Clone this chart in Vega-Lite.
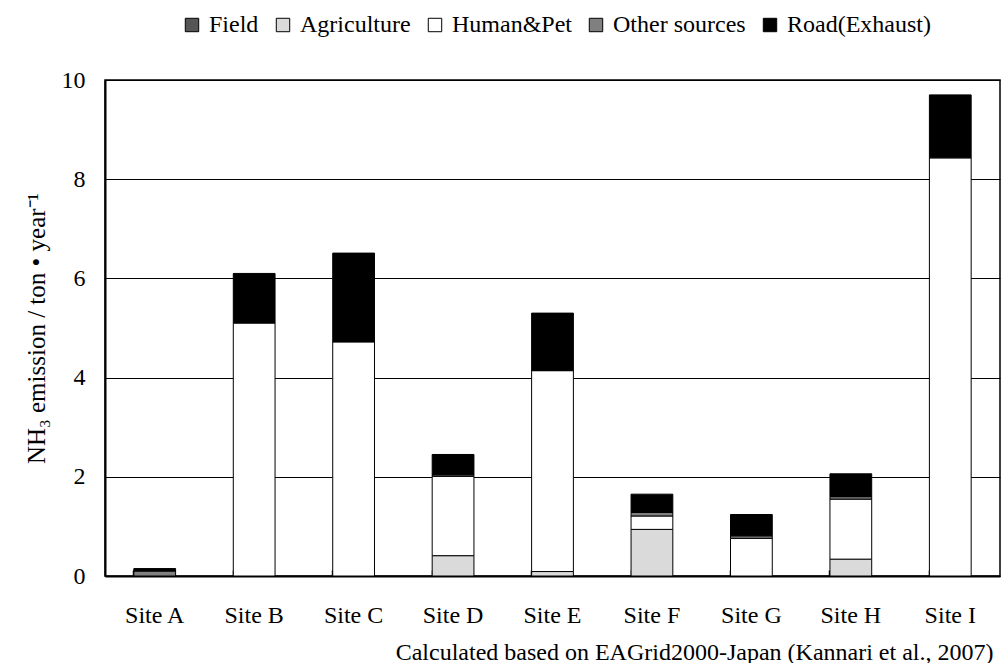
{
  "$schema": "https://vega.github.io/schema/vega-lite/v6.json",
  "autosize": "none",
  "width": 895,
  "height": 496,
  "padding": {"left": 105, "top": 80, "right": 2, "bottom": 87},
  "background": "white",
  "config": {
    "font": "Liberation Serif",
    "view": {"stroke": "black", "strokeWidth": 1.5},
    "axis": {"labelFont": "Liberation Serif", "titleFont": "Liberation Serif"},
    "legend": {"labelFont": "Liberation Serif"}
  },
  "data": {
    "values": [
      {"site": "Site A", "source": "Other sources", "value": 0.1},
      {"site": "Site A", "source": "Road(Exhaust)", "value": 0.05},
      {"site": "Site B", "source": "Human&Pet", "value": 5.1},
      {"site": "Site B", "source": "Road(Exhaust)", "value": 1.0},
      {"site": "Site C", "source": "Human&Pet", "value": 4.72},
      {"site": "Site C", "source": "Road(Exhaust)", "value": 1.79},
      {"site": "Site D", "source": "Agriculture", "value": 0.41},
      {"site": "Site D", "source": "Human&Pet", "value": 1.6},
      {"site": "Site D", "source": "Other sources", "value": 0.03},
      {"site": "Site D", "source": "Road(Exhaust)", "value": 0.41},
      {"site": "Site E", "source": "Agriculture", "value": 0.09},
      {"site": "Site E", "source": "Human&Pet", "value": 4.05},
      {"site": "Site E", "source": "Road(Exhaust)", "value": 1.16},
      {"site": "Site F", "source": "Agriculture", "value": 0.94},
      {"site": "Site F", "source": "Human&Pet", "value": 0.27},
      {"site": "Site F", "source": "Other sources", "value": 0.07},
      {"site": "Site F", "source": "Road(Exhaust)", "value": 0.37},
      {"site": "Site G", "source": "Human&Pet", "value": 0.76},
      {"site": "Site G", "source": "Other sources", "value": 0.05},
      {"site": "Site G", "source": "Road(Exhaust)", "value": 0.43},
      {"site": "Site H", "source": "Agriculture", "value": 0.34},
      {"site": "Site H", "source": "Human&Pet", "value": 1.21},
      {"site": "Site H", "source": "Other sources", "value": 0.05},
      {"site": "Site H", "source": "Road(Exhaust)", "value": 0.46},
      {"site": "Site I", "source": "Human&Pet", "value": 8.43},
      {"site": "Site I", "source": "Road(Exhaust)", "value": 1.27}
    ]
  },
  "mark": {"type": "bar", "stroke": "black", "strokeWidth": 1},
  "encoding": {
    "x": {
      "field": "site",
      "type": "nominal",
      "scale": {"paddingInner": 0.58, "paddingOuter": 0.29},
      "axis": {
        "domainColor": "black",
        "domainWidth": 2,
        "bandPosition": 0,
        "ticks": true,
        "tickColor": "black",
        "tickSize": -6,
        "tickWidth": 1.5,
        "labelAngle": 0,
        "labelFont": "Liberation Serif",
        "labelFontSize": 24,
        "labelColor": "black",
        "labelPadding": 33,
        "title": "Calculated  based on EAGrid2000-Japan  (Kannari  et al., 2007)",
        "titleFont": "Liberation Serif",
        "titleFontSize": 24,
        "titleFontWeight": "normal",
        "titleColor": "black",
        "titleAnchor": "end",
        "titleAlign": "right",
        "titleBaseline": "middle",
        "titleX": 888,
        "titleY": 76
      }
    },
    "y": {
      "field": "value",
      "type": "quantitative",
      "aggregate": "sum",
      "stack": "zero",
      "scale": {"domain": [0, 10]},
      "axis": {
        "values": [0, 2, 4, 6, 8, 10],
        "grid": true,
        "gridColor": "black",
        "gridWidth": 1,
        "gridOpacity": 1,
        "domainColor": "black",
        "domainWidth": 2,
        "ticks": false,
        "labelFont": "Liberation Serif",
        "labelFontSize": 24,
        "labelColor": "black",
        "labelPadding": 20,
        "title": "NH₃ emission / ton • year⁻¹",
        "titleFont": "Liberation Serif",
        "titleFontSize": 25,
        "titleFontWeight": "normal",
        "titleColor": "black",
        "titlePadding": 12
      }
    },
    "order": {"field": "source", "sort": "ascending"},
    "color": {
      "field": "source",
      "type": "nominal",
      "scale": {
        "domain": ["Field", "Agriculture", "Human&Pet", "Other sources", "Road(Exhaust)"],
        "range": ["#555555", "#dadada", "#ffffff", "#808080", "#000000"]
      },
      "legend": {
        "title": null,
        "orient": "none",
        "direction": "horizontal",
        "legendX": 75,
        "legendY": -67,
        "symbolType": "square",
        "symbolSize": 180,
        "symbolStrokeColor": "black",
        "symbolStrokeWidth": 1,
        "symbolOpacity": 1,
        "labelFont": "Liberation Serif",
        "labelFontSize": 24,
        "labelColor": "black",
        "labelOffset": 5,
        "columnPadding": 12,
        "labelLimit": 300
      }
    }
  }
}
